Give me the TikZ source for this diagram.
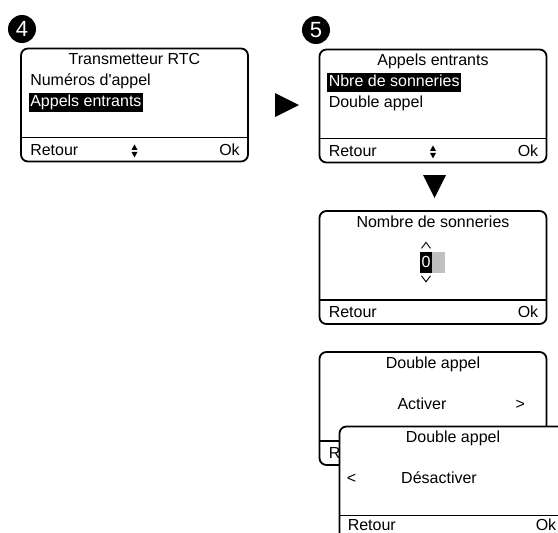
\documentclass[tikz,border=0pt]{standalone}
\usepackage{fontspec}
\setmainfont{Liberation Sans}
\usetikzlibrary{positioning,calc}
\definecolor{CursorGray}{RGB}{192,192,192}
\tikzset{
	screen/.style={draw=black,fill=white,line width=1.8pt,rounded corners=7pt,
		minimum width=227pt,minimum height=113pt,inner sep=0pt},
	sep/.style={line width=1.8pt},
	txt/.style={inner sep=0pt,font=\fontsize{16}{18}\selectfont},
	sel/.style={txt,fill=black,text=white,inner sep=1.5pt,text height=11.8pt,text depth=3.6pt},
	badge/.style={circle,fill=black,text=white,minimum size=28pt,inner sep=0pt,
		font=\fontsize{22}{22}\selectfont},
	chev/.style={line width=0.9pt},
}

\begin{document}
\begin{tikzpicture}[x=1pt,y=-1pt]
	\useasboundingbox (0,0) rectangle (558,533);
	\clip (0,0) rectangle (558,533);
	% step 4
	\node[badge] (n4) at (22,29) {4};
	\node[screen] (s4) at (134.5,105) {};
	\node[txt,anchor=base] (s4title) at ($(s4.north)+(0,17)$) {Transmetteur RTC};
	\node[txt,anchor=base west] (s4a) at ($(s4.north west)+(10,38)$) {Numéros d\textquotesingle appel};
	\node[sel,anchor=base west] (s4b) at ($(s4.north west)+(8.5,59)$) {Appels entrants};
	% step 5
	\node[badge] (n5) at (316,30) {5};
	\node[screen] (s5) at (433,106) {};
	\node[txt,anchor=base] (s5title) at ($(s5.north)+(0,17)$) {Appels entrants};
	\node[sel,anchor=base west] (s5a) at ($(s5.north west)+(8.5,38)$) {Nbre de sonneries};
	\node[txt,anchor=base west] (s5b) at ($(s5.north west)+(10,59)$) {Double appel};
	\foreach \scr in {s4,s5} {
		\fill ($(\scr.south)+(0,-18)$) -- ++(3,5.5) -- ++(-6,0) -- cycle;
		\fill ($(\scr.south)+(0,-5)$) -- ++(3,-5.5) -- ++(-6,0) -- cycle;
	}
	\coordinate (go right) at (287,105);
	\fill (go right) ++(-12,-12) -- ++(24,12) -- ++(-24,12) -- cycle;
	\coordinate (go down) at (434.5,186.5);
	\fill (go down) ++(-11.5,-11.5) -- ++(23,0) -- ++(-11.5,23) -- cycle;
	% nombre de sonneries
	\node[screen] (nb) at (433,267.5) {};
	\node[txt,anchor=base] (nbtitle) at ($(nb.north)+(0,17)$) {Nombre de sonneries};
	\node[txt,fill=black,text=white,minimum width=12pt,minimum height=21pt] (nbdigit)
		at ($(nb.north)+(-7,52)$) {0};
	\node[fill=CursorGray,minimum width=13pt,minimum height=21pt,inner sep=0pt,
		right=0pt of nbdigit] (nbcursor) {};
	\draw[chev] ($(nbdigit.north)+(-4.5,-3)$) -- ++(4.5,-6) -- ++(4.5,6);
	\draw[chev] ($(nbdigit.south)+(-4.5,3)$) -- ++(4.5,6) -- ++(4.5,-6);
	% double appel, activer
	\node[screen] (da) at (433,408.5) {};
	\node[txt,anchor=base] (datitle) at ($(da.north)+(0,17)$) {Double appel};
	\node[txt,anchor=base] (daval) at ($(da.north)+(-11,58)$) {Activer};
	\node[txt,anchor=base] (danext) at ($(da.north east)+(-27,58)$) {>};
	\foreach \scr in {s4,s5,nb,da} {
		\draw[sep] ([yshift=25pt]\scr.south west) -- ([yshift=25pt]\scr.south east);
		\node[txt,anchor=base west] (\scr back) at ($(\scr.south west)+(10,-7)$) {Retour};
		\node[txt,anchor=base east] (\scr ok) at ($(\scr.south east)+(-9,-7)$) {Ok};
	}
	% double appel, desactiver (on top)
	\node[screen] (dd) at (453,483) {};
	\node[txt,anchor=base] (ddtitle) at ($(dd.north)+(0,17)$) {Double appel};
	\node[txt,anchor=base] (ddval) at ($(dd.north)+(-14,58)$) {Désactiver};
	\node[txt,anchor=base west] (ddprev) at ($(dd.north west)+(8,58)$) {<};
	\draw[sep] ([yshift=25pt]dd.south west) -- ([yshift=25pt]dd.south east);
	\node[txt,anchor=base west] (ddback) at ($(dd.south west)+(9,-9.5)$) {Retour};
	\node[txt,anchor=base east] (ddok) at ($(dd.south east)+(-11,-9.5)$) {Ok};
\end{tikzpicture}
\end{document}
